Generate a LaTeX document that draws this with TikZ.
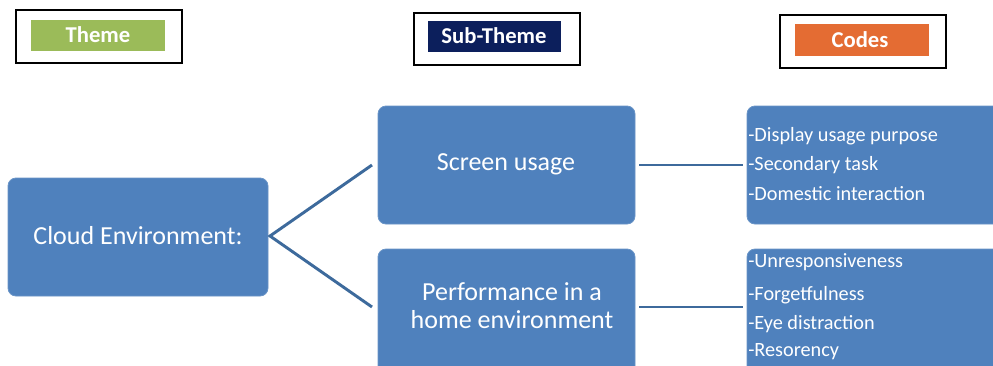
\documentclass[tikz,border=0pt]{standalone}
\usepackage{fontspec}
\setmainfont{Carlito}
\usetikzlibrary{calc}
\definecolor{boxblue}{HTML}{4F81BD}
\definecolor{lineblue}{HTML}{3D6A9C}
\definecolor{thgreen}{HTML}{9BBB59}
\definecolor{thnavy}{HTML}{0C1F5C}
\definecolor{thorange}{HTML}{E46C33}
\begin{document}
\begin{tikzpicture}[x=0.75pt,y=-0.75pt,
  mainbox/.style={fill=boxblue,draw=boxblue!85!white,line width=0.6pt,rounded corners=6pt},
  maintxt/.style={text=white,font=\fontsize{19.5}{21}\selectfont,align=center},
  legframe/.style={draw=black,line width=1.3pt,fill=white},
  legtag/.style={text=white,font=\fontsize{17}{19}\selectfont\bfseries},
  codetxt/.style={text=white,font=\fontsize{15.2}{17}\selectfont,anchor=west,inner sep=0pt},
  conn/.style={draw=lineblue,line width=2.2pt}]
\useasboundingbox (0,0) rectangle (993,365);
\clip (0,0) rectangle (993,365);
\fill[white] (0,0) rectangle (993,365);
% legend
\draw[legframe] (16,10) rectangle (182,63);
\fill[thgreen] (31,20) rectangle (165,51);
\node[legtag] (lt) at (98,35) {Theme};
\draw[legframe] (414,13) rectangle (580,65);
\fill[thnavy] (428,21) rectangle (561,52);
\node[legtag] (ls) at (494,36) {Sub-Theme};
\draw[legframe] (780,15) rectangle (946,68);
\fill[thorange] (795,24) rectangle (929,56);
\node[legtag] (lc) at (860,40) {Codes};
% main boxes
\path[mainbox] (8,178) rectangle (268,296);
\node[maintxt] (cloud) at (138,236) {Cloud Environment:};
\coordinate (apex) at (270,236);
\path[mainbox] (378,106) rectangle (635,224);
\node[maintxt] (screen) at (506,164) {Screen usage};
\coordinate (sw) at (378,165);
\coordinate (se) at (635,165);
\path[mainbox] (378,249) rectangle (635,380);
\node[maintxt,font=\fontsize{19.5}{21}\selectfont] (perf) at (512,306) {Performance in a\\home environment};
\coordinate (pw) at (378,307);
\coordinate (pe) at (635,307);
\path[mainbox] (747,106) rectangle (1010,224);
\coordinate (c1w) at (747,165);
\path[mainbox] (747,249) rectangle (1010,380);
\coordinate (c2w) at (747,307);
% code text
\node[codetxt] (a1) at (748,136) {-Display usage purpose};
\node[codetxt] (a2) at (748,165) {-Secondary task};
\node[codetxt] (a3) at (748,194) {-Domestic interaction};
\node[codetxt] (b1) at (748,262) {-Unresponsiveness};
\node[codetxt] (b2) at (748,295) {-Forgetfulness};
\node[codetxt] (b3) at (748,324) {-Eye distraction};
\node[codetxt] (b4) at (748,352) {-Resorency};
% connectors
\draw[conn,line join=miter] ($(sw)+(-6,0)$) -- (apex) -- ($(pw)+(-6,0)$);
\draw[conn,shorten <=3pt,shorten >=3pt] (se) -- (c1w);
\draw[conn,shorten <=3pt,shorten >=3pt] (pe) -- (c2w);
\end{tikzpicture}
\end{document}
